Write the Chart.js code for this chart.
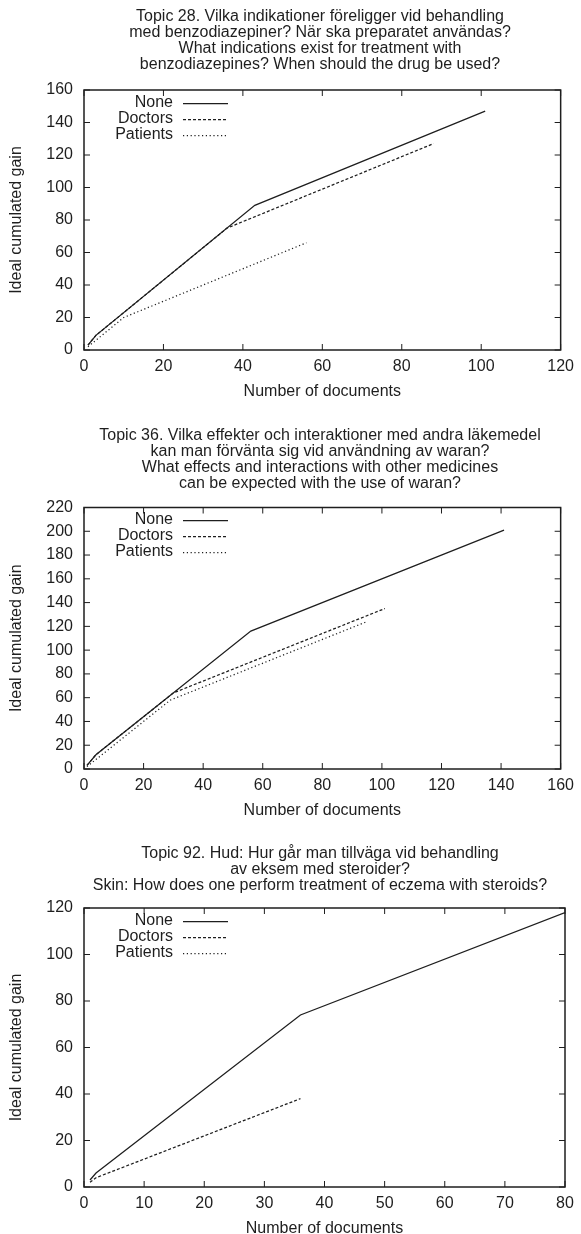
<!DOCTYPE html>
<html><head><meta charset="utf-8">
<script src="https://cdn.jsdelivr.net/npm/chart.js@4.4.1/dist/chart.umd.min.js"></script>
<style>
html,body{margin:0;padding:0;background:#fff;}
body{width:581px;height:1234px;position:relative;overflow:hidden;}
.c{position:absolute;left:0;width:581px;}
canvas{display:block;}
</style></head><body>
<div class="c" style="top:0;height:400px"><canvas id="c1" width="581" height="400"></canvas></div>
<div class="c" style="top:400px;height:420px"><canvas id="c2" width="581" height="420"></canvas></div>
<div class="c" style="top:820px;height:414px"><canvas id="c3" width="581" height="414"></canvas></div>
<script>
// ---- shared labels ----
const seriesLabels = ['None', 'Doctors', 'Patients'];
const xAxisTitle = 'Number of documents';
const yAxisTitle = 'Ideal cumulated gain';

// ---- Topic 28 ----
const t28Title = [
  'Topic 28. Vilka indikationer föreligger vid behandling',
  'med benzodiazepiner? När ska preparatet användas?',
  'What indications exist for treatment with',
  'benzodiazepines? When should the drug be used?'
];
const t28NoneX = [1, 3, 43, 101];
const t28NoneY = [3, 9, 89, 147];
const t28DoctorsX = [1, 3, 36, 88];
const t28DoctorsY = [3, 9, 75, 127];
const t28PatientsX = [1, 10, 56];
const t28PatientsY = [2, 20, 66];
const t28XTicks = [0, 120, 20];   // min, max, step
const t28YTicks = [0, 160, 20];

// ---- Topic 36 ----
const t36Title = [
  'Topic 36. Vilka effekter och interaktioner med andra läkemedel',
  'kan man förvänta sig vid användning av waran?',
  'What effects and interactions with other medicines',
  'can be expected with the use of waran?'
];
const t36NoneX = [1, 4, 56, 141];
const t36NoneY = [3, 12, 116, 201];
const t36DoctorsX = [1, 4, 30, 101];
const t36DoctorsY = [3, 12, 64, 135];
const t36PatientsX = [1, 29, 95];
const t36PatientsY = [2, 58, 124];
const t36XTicks = [0, 160, 20];
const t36YTicks = [0, 220, 20];

// ---- Topic 92 ----
const t92Title = [
  'Topic 92. Hud: Hur går man tillväga vid behandling',
  'av eksem med steroider?',
  'Skin: How does one perform treatment of eczema with steroids?'
];
const t92NoneX = [1, 2, 36, 80];
const t92NoneY = [3, 6, 74, 118];
const t92DoctorsX = [1, 2, 36];
const t92DoctorsY = [2, 4, 38];
const t92PatientsX = [];
const t92PatientsY = [];
const t92XTicks = [0, 80, 10];
const t92YTicks = [0, 120, 20];

const FONT = "'Liberation Sans', Arial, Helvetica, sans-serif";
const INK = '#1e1e1e';
Chart.defaults.font.family = FONT;
Chart.defaults.font.size = 16;
Chart.defaults.color = INK;

const dashes = [[], [3, 2], [1.2, 2.6]];

function pts(xs, ys) { return xs.map((x, i) => ({ x: x, y: ys[i] })); }

const gnuFrame = {
  id: 'gnuFrame',
  afterDraw(chart, args, o) {
    const ctx = chart.ctx;
    const { left, right, top, bottom } = chart.chartArea;
    const xs = chart.scales.x, ys = chart.scales.y;
    ctx.save();
    // border
    ctx.strokeStyle = INK;
    ctx.lineWidth = 1.5;
    ctx.setLineDash([]);
    ctx.strokeRect(left, top, right - left, bottom - top);
    // inward ticks, mirrored
    ctx.lineWidth = 1;
    const TL = 6;
    ctx.beginPath();
    xs.ticks.forEach(t => {
      const p = xs.getPixelForValue(t.value);
      ctx.moveTo(p, bottom); ctx.lineTo(p, bottom - TL);
      ctx.moveTo(p, top); ctx.lineTo(p, top + TL);
    });
    ys.ticks.forEach(t => {
      const p = ys.getPixelForValue(t.value);
      ctx.moveTo(left, p); ctx.lineTo(left + TL, p);
      ctx.moveTo(right, p); ctx.lineTo(right - TL, p);
    });
    ctx.stroke();
    // text
    ctx.fillStyle = INK;
    ctx.font = '16px ' + FONT;
    ctx.textBaseline = 'middle';
    // title
    ctx.textAlign = 'center';
    o.lines.forEach((ln, i) => ctx.fillText(ln, o.titleX, o.titleY + 16 * i));
    // x axis title
    ctx.fillText(xAxisTitle, (left + right) / 2, bottom + 41.5);
    // y axis title
    ctx.save();
    ctx.translate(17, (top + bottom) / 2);
    ctx.rotate(-Math.PI / 2);
    ctx.fillText(yAxisTitle, 0, 0);
    ctx.restore();
    // legend (gnuplot style: text then sample)
    chart.data.datasets.forEach((ds, i) => {
      const y = top + 12.5 + 16 * i;
      ctx.textAlign = 'right';
      ctx.fillText(ds.label, left + 89, y);
      ctx.beginPath();
      ctx.setLineDash(ds.borderDash || []);
      ctx.strokeStyle = ds.borderColor;
      ctx.lineWidth = ds.borderWidth;
      ctx.moveTo(left + 99, Math.round(y) + 0.5);
      ctx.lineTo(left + 144, Math.round(y) + 0.5);
      ctx.stroke();
    });
    ctx.restore();
  }
};

function makeChart(id, title, titleY, series, xT, yT, padTop, padBottom) {
  const datasets = series.map((s, i) => ({
    label: seriesLabels[i],
    data: pts(s[0], s[1]),
    showLine: true,
    borderColor: INK,
    backgroundColor: INK,
    borderWidth: 1.25,
    borderDash: dashes[i],
    pointRadius: 0,
    fill: false,
    tension: 0
  }));
  return new Chart(document.getElementById(id), {
    type: 'scatter',
    data: { datasets },
    options: {
      responsive: false,
      animation: false,
      devicePixelRatio: 1,
      layout: { padding: { left: 0, right: 16, top: padTop, bottom: padBottom } },
      plugins: {
        legend: { display: false },
        tooltip: { enabled: false },
        gnuFrame: { lines: title, titleX: 320, titleY: titleY }
      },
      scales: {
        x: {
          type: 'linear', min: xT[0], max: xT[1],
          ticks: { stepSize: xT[2], padding: 7, color: INK, font: { size: 16 } },
          grid: { display: false, drawTicks: false },
          border: { display: false },
          afterFit: s => { s.height = 30; }
        },
        y: {
          type: 'linear', min: yT[0], max: yT[1],
          ticks: { stepSize: yT[2], padding: 11, color: INK, font: { size: 16 } },
          grid: { display: false, drawTicks: false },
          border: { display: false },
          afterFit: s => { s.width = 84; }
        }
      }
    },
    plugins: [gnuFrame]
  });
}

makeChart('c1', t28Title, 16.5,
  [[t28NoneX, t28NoneY], [t28DoctorsX, t28DoctorsY], [t28PatientsX, t28PatientsY]],
  t28XTicks, t28YTicks, 90, 400 - 350 - 30);
makeChart('c2', t36Title, 35.2,
  [[t36NoneX, t36NoneY], [t36DoctorsX, t36DoctorsY], [t36PatientsX, t36PatientsY]],
  t36XTicks, t36YTicks, 107.5, 420 - 369 - 30);
makeChart('c3', t92Title, 33.3,
  [[t92NoneX, t92NoneY], [t92DoctorsX, t92DoctorsY], [t92PatientsX, t92PatientsY]],
  t92XTicks, t92YTicks, 88, 414 - 367 - 30);
</script>
</body></html>
